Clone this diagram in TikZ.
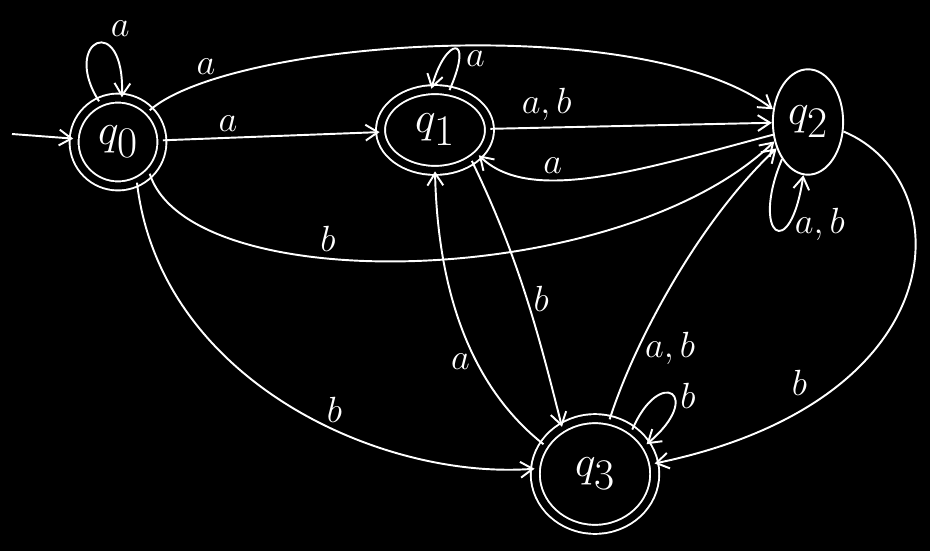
\documentclass[tikz,border=0pt]{standalone}
\usetikzlibrary{arrows.meta,shapes.geometric}
\tikzset{
  trans/.style={white,line width=1.1pt,-{Straight Barb[length=7pt,width=9pt]}},
  state/.style={draw=white,line width=1.1pt,inner sep=0pt,text=white,font=\fontsize{40}{40}\selectfont},
  accept/.style={state,double=black,double distance=4pt},
  lbl/.style={text=white,font=\fontsize{20}{20}\selectfont}
}
\begin{document}
\begin{tikzpicture}[x=0.02cm,y=-0.02cm]
  \fill[black] (0,0) rectangle (930,551);
  \useasboundingbox (0,0) rectangle (930,551);
  % states
  \node[accept,circle,minimum size=50pt] (q0) at (118,142) {$q_0$};
  \node[accept,ellipse,minimum width=62pt,minimum height=46pt] (q1) at (435,130) {$q_1$};
  \node[state,ellipse,minimum width=40pt,minimum height=60pt] (q2) at (808,122) {$q_2$};
  \node[accept,ellipse,minimum width=68pt,minimum height=63pt] (q3) at (595,474) {$q_3$};
  \coordinate (start) at (12,134);
  % transitions
  \draw[trans] (start) -- (q0);
  \draw[trans] (q0.115) .. controls (60,40) and (125,10) .. (q0.85) node[lbl,pos=0.6,above right] {$a$};
  \draw[trans] (q0.north east) .. controls (230,40) and (640,10) .. (q2.160) node[lbl,pos=0.15,above] {$a$};
  \draw[trans] (q0) -- (q1) node[lbl,pos=0.3,above] {$a$};
  \draw[trans] (q0.-45) .. controls (190,300) and (620,290) .. (q2.210) node[lbl,pos=0.38,above] {$b$};
  \draw[trans] (q0.-65) .. controls (160,380) and (380,480) .. (q3.175) node[lbl,pos=0.6,above] {$b$};
  \draw[trans] (q1.70) .. controls (475,32) and (445,38) .. (q1.95) node[lbl,pos=0.25,right] {$a$};
  \draw[trans] (q1) -- (q2) node[lbl,pos=0.2,above] {$a,b$};
  \draw[trans] (q1.-40) .. controls (520,260) and (540,340) .. (q3.125) node[lbl,pos=0.5,right] {$b$};
  \draw[trans] (q2.200) .. controls (640,170) and (530,205) .. (q1.-30) node[lbl,pos=0.65,above] {$a$};
  \draw[trans] (q2.235) .. controls (750,235) and (790,265) .. (q2.265) node[lbl,pos=0.72,right] {$a,b$};
  \draw[trans] (q2.-15) .. controls (960,180) and (960,400) .. (q3.10) node[lbl,pos=0.78,above left] {$b$};
  \draw[trans] (q3.150) .. controls (475,390) and (438,300) .. (q1.-90) node[lbl,pos=0.4,left] {$a$};
  \draw[trans] (q3.75) .. controls (635,340) and (700,220) .. (q2.220) node[lbl,pos=0.27,right] {$a,b$};
  \draw[trans] (q3.50) .. controls (660,365) and (705,395) .. (q3.30) node[lbl,pos=0.55,right] {$b$};
\end{tikzpicture}
\end{document}
